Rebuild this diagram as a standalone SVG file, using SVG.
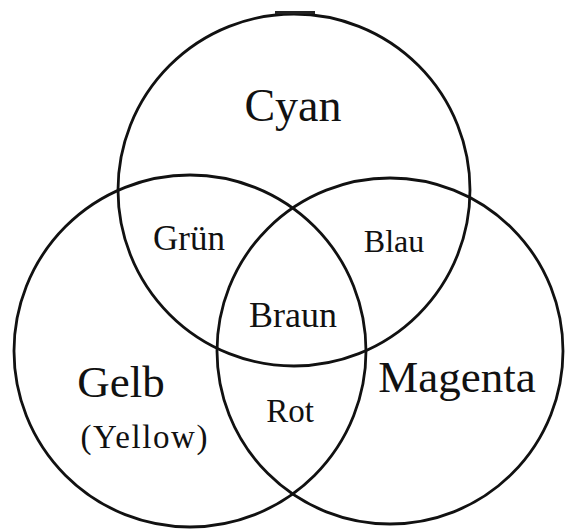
<svg xmlns="http://www.w3.org/2000/svg" width="566" height="531" viewBox="0 0 566 531">
  <style>
    .ring { fill: none; stroke: #111; stroke-width: 2.8; }
    .lbl { font-family: "Liberation Serif", "Times New Roman", serif; fill: #111; text-anchor: middle; }
  </style>
  <rect width="566" height="531" fill="#fff"/>
  <g id="cyan">
    <circle class="ring" cx="294" cy="190" r="176"/>
    <rect x="275" y="11" width="40" height="3" fill="#222"/>
    <text class="lbl" x="293" y="121" font-size="46">Cyan</text>
  </g>
  <g id="gelb">
    <circle class="ring" cx="190" cy="351" r="176"/>
    <text class="lbl" x="121" y="397" font-size="45">Gelb</text>
    <text class="lbl" x="144" y="448" font-size="33" textLength="127" lengthAdjust="spacing">(Yellow)</text>
  </g>
  <g id="magenta">
    <circle class="ring" cx="390" cy="351" r="173"/>
    <text class="lbl" x="457" y="392" font-size="45">Magenta</text>
  </g>
  <g id="gruen">
    <text class="lbl" x="189" y="250" font-size="35">Grün</text>
  </g>
  <g id="blau">
    <text class="lbl" x="394" y="252" font-size="32">Blau</text>
  </g>
  <g id="braun">
    <text class="lbl" x="293" y="327" font-size="36">Braun</text>
  </g>
  <g id="rot">
    <text class="lbl" x="290" y="422" font-size="33">Rot</text>
  </g>
  <g id="connectors"/>
</svg>
